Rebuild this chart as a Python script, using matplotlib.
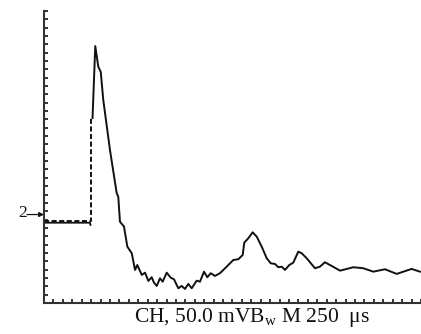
import matplotlib
matplotlib.use("Agg")
import matplotlib.pyplot as plt

plt.rcParams["font.family"] = ["Liberation Serif", "DejaVu Serif"]
plt.rcParams["mathtext.fontset"] = "custom"
plt.rcParams["mathtext.rm"] = "Liberation Serif"

# trigger level / pre-trigger trace
base_x = [0.0, 4.88, 4.93]
base_y = [9.62, 9.62, 9.35]

dash_x = [0.0, 4.99, 4.99]
dash_y = [9.83, 9.83, 22.17]

# main trace
sig_x = [5.15, 5.44, 5.76, 6.02, 6.29, 7.00, 7.71, 7.88, 8.06, 8.49, 8.84, 9.31,
         9.66, 9.90, 10.37, 10.72, 11.07, 11.43, 11.67, 11.96, 12.31, 12.59, 13.02,
         13.44, 13.79, 14.25, 14.61, 14.96, 15.31, 15.67, 16.20, 16.55, 16.98, 17.33,
         17.69, 18.14, 18.67, 19.38, 20.09, 20.62, 21.08, 21.25, 21.68, 22.14, 22.57,
         23.10, 23.63, 24.05, 24.51, 24.86, 25.22, 25.57, 26.03, 26.45, 26.98, 27.34,
         27.87, 28.75, 29.28, 29.81, 30.34, 31.41, 32.82, 33.88, 34.94, 36.18, 37.42,
         39.01, 39.89]
sig_y = [22.17, 30.80, 28.32, 27.72, 24.33, 18.34, 13.18, 12.74, 9.74, 9.15, 6.75, 5.96,
         3.96, 4.55, 3.36, 3.63, 2.64, 3.08, 2.43, 2.04, 2.96, 2.55, 3.63,
         3.03, 2.84, 1.76, 2.04, 1.68, 2.28, 1.76, 2.67, 2.55, 3.75, 3.08,
         3.56, 3.24, 3.56, 4.35, 5.15, 5.24, 5.75, 7.23, 7.76, 8.47, 7.95,
         6.75, 5.36, 4.76, 4.67, 4.28, 4.35, 3.96, 4.55, 4.83, 6.15, 5.96,
         5.36, 4.16, 4.35, 4.88, 4.55, 3.87, 4.28, 4.16, 3.75, 4.04, 3.48,
         4.08, 3.75]

marker_level = 10.6
marker_label = "2"
caption = r"CH, 50.0 mVB$_{\rm w}$ M 250  μs"

fig = plt.figure(figsize=(4.21, 3.34), dpi=100)
ax = fig.add_axes([0.1045, 0.093, 0.8955, 0.874])

ax.plot(base_x, base_y, color="#111111", lw=1.3)
ax.plot(dash_x, dash_y, color="#111111", lw=1.4, dashes=(2.6, 1.3))
ax.plot(sig_x, sig_y, color="#111111", lw=1.4)

ax.set_xlim(0, 40)
ax.set_ylim(0, 35)
ax.set_xticks(range(0, 41))
ax.set_yticks(range(0, 36))
ax.tick_params(direction="in", length=3, width=1.2, color="#111111",
               labelbottom=False, labelleft=False)
for side in ("top", "right"):
    ax.spines[side].set_visible(False)
for side in ("left", "bottom"):
    ax.spines[side].set_linewidth(1.5)
    ax.spines[side].set_color("#333333")

# channel marker on the left
ax.annotate("", xy=(0, marker_level), xytext=(-1.8, marker_level),
            xycoords="data", textcoords="data", annotation_clip=False,
            arrowprops=dict(arrowstyle="-|>", color="#111111", lw=0.9,
                            mutation_scale=7, shrinkA=0, shrinkB=0))
ax.text(-1.85, marker_level + 0.15, marker_label, ha="right", va="center",
        fontsize=12.5, color="#111111", clip_on=False)

fig.text(0.599, 0.036, caption, ha="center", va="baseline", fontsize=15.5,
         color="#111111")

fig.savefig("out.png", dpi=100)
